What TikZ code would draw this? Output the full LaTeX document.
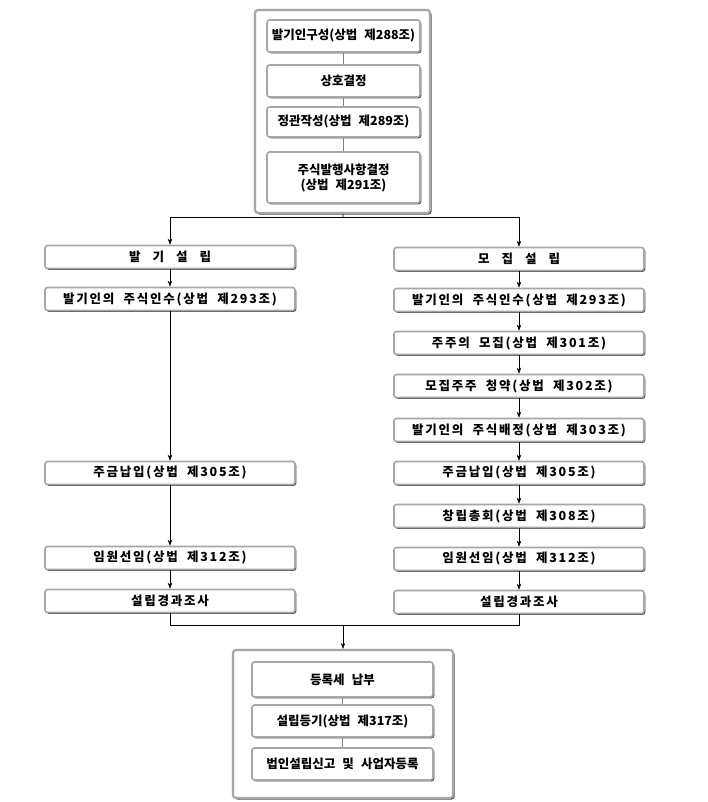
\documentclass[tikz,border=0pt]{standalone}
\usepackage{fontspec}
\setmainfont{Noto Sans CJK KR}[WordSpace=2.5]
\newfontfamily\colfont{Noto Sans CJK KR}[LetterSpace=14, WordSpace=2]
\usetikzlibrary{arrows.meta,shadows}

\tikzset{
  stepbox/.style={draw=gray!70, line width=1.6pt, rounded corners=2.5pt, fill=white,
    drop shadow={shadow xshift=1.3pt, shadow yshift=-1.3pt, fill=gray!60!black, opacity=1},
    inner sep=2pt, align=center, font=\fontsize{12.5}{15}\selectfont\bfseries},
  colbox/.style={stepbox, minimum width=250pt, minimum height=23pt,
    font=\colfont\fontsize{12.5}{15}\selectfont\bfseries},
  topbox/.style={stepbox, minimum width=153pt},
  botbox/.style={stepbox, minimum width=181pt},
  groupbox/.style={draw=gray!70, line width=2.2pt, rounded corners=3pt, fill=white,
    drop shadow={shadow xshift=1.6pt, shadow yshift=-1.6pt, fill=gray!60!black, opacity=1}},
  flow/.style={-{Stealth[length=6pt,width=4.5pt]}, line width=0.6pt},
  link/.style={gray, line width=0.7pt}
}

\begin{document}
\begin{tikzpicture}[x=1pt,y=-1pt]
  \useasboundingbox (0,0) rectangle (708,802);

  % founding steps
  \node[groupbox, minimum width=175pt, minimum height=203pt] (top) at (342.5,111.5) {};
  \node[topbox, minimum height=32pt] (t1) at (343.5,36) {발기인구성(상법 제288조)};
  \node[topbox, minimum height=32pt] (t2) at (343.5,81) {상호결정};
  \node[topbox, minimum height=30pt] (t3) at (343.5,122) {정관작성(상법 제289조)};
  \node[topbox, minimum height=51pt] (t4) at (343.5,177.5) {주식발행사항결정\\(상법 제291조)};
  \draw[link] (t1) -- (t2);
  \draw[link] (t2) -- (t3);
  \draw[link] (t3) -- (t4);

  % left: 발기설립
  \node[colbox] (l0) at (170,257) {발\hspace{12pt}기\hspace{12pt}설\hspace{12pt}립};
  \node[colbox] (l1) at (170,299) {발기인의 주식인수(상법 제293조)};
  \node[colbox] (l2) at (170,473) {주금납입(상법 제305조)};
  \node[colbox] (l3) at (170,558) {임원선임(상법 제312조)};
  \node[colbox] (l4) at (170,601) {설립경과조사};

  % right: 모집설립
  \node[colbox] (r0) at (519,259) {모\hspace{12pt}집\hspace{12pt}설\hspace{12pt}립};
  \node[colbox] (r1) at (519,300) {발기인의 주식인수(상법 제293조)};
  \node[colbox] (r2) at (519,343) {주주의 모집(상법 제301조)};
  \node[colbox] (r3) at (519,386) {모집주주 청약(상법 제302조)};
  \node[colbox] (r4) at (519,430) {발기인의 주식배정(상법 제303조)};
  \node[colbox] (r5) at (519,473) {주금납입(상법 제305조)};
  \node[colbox] (r6) at (519,516) {창립총회(상법 제308조)};
  \node[colbox] (r7) at (519,559) {임원선임(상법 제312조)};
  \node[colbox] (r8) at (519,602) {설립경과조사};

  % registration
  \node[groupbox, minimum width=220pt, minimum height=148pt] (bot) at (343,724) {};
  \node[botbox, minimum height=35pt] (b1) at (342.5,679.5) {등록세 납부};
  \node[botbox, minimum height=32pt] (b2) at (342.5,721) {설립등기(상법 제317조)};
  \node[botbox, minimum height=32pt] (b3) at (342.5,764) {법인설립신고 및 사업자등록};
  \draw[link] (b1) -- (b2);
  \draw[link] (b2) -- (b3);

  \coordinate (split) at (343,217);
  \coordinate (merge) at (343,625);
  \draw[line width=0.6pt] (top) -- (split);
  \draw[flow] (split) -| (l0);
  \draw[flow] (split) -| (r0);

  \draw[flow] (l0) -- (l1);
  \draw[flow] (l1) -- (l2);
  \draw[flow] (l2) -- (l3);
  \draw[flow] (l3) -- (l4);
  \foreach \a/\b in {r0/r1,r1/r2,r2/r3,r3/r4,r4/r5,r5/r6,r6/r7,r7/r8}
    \draw[flow] (\a) -- (\b);

  \draw[line width=0.6pt] (l4) |- (merge);
  \draw[line width=0.6pt] (r8) |- (merge);
  \draw[flow] (merge) -- (bot);
\end{tikzpicture}
\end{document}
